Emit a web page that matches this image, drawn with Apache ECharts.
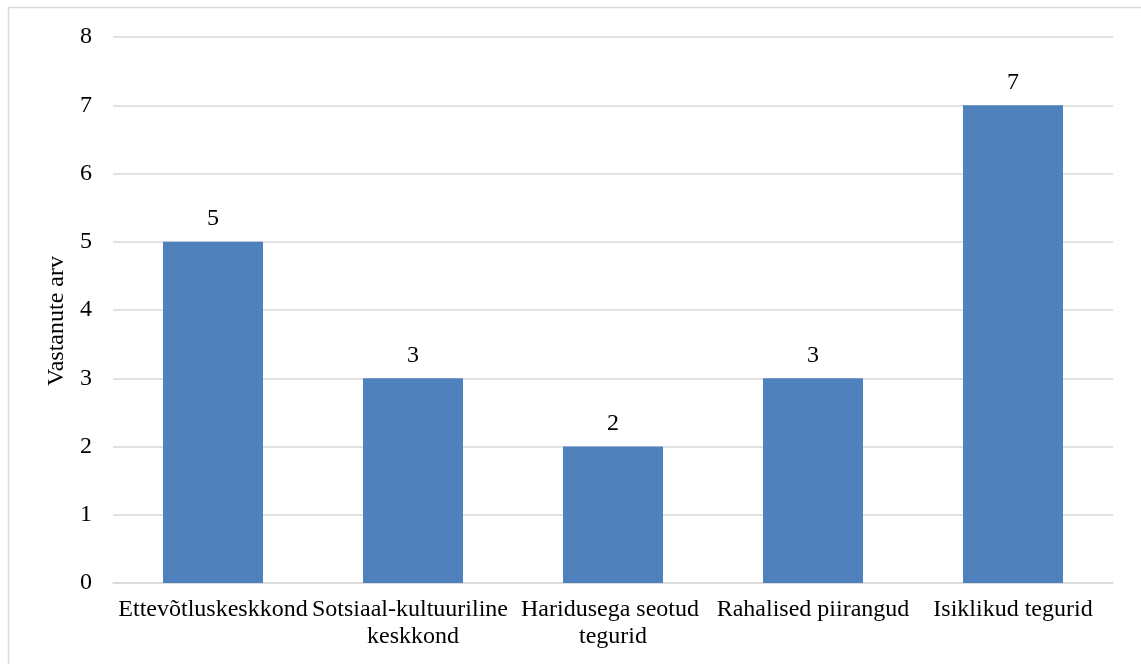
<!DOCTYPE html>
<html><head><meta charset="utf-8">
<script src="https://cdn.jsdelivr.net/npm/echarts@6/dist/echarts.min.js"></script>
<style>html,body{margin:0;padding:0;background:#fff}#c{width:1141px;height:664px}</style>
</head><body><div id="c"></div>
<script>
const categories = ["Ettevõtluskeskkond", "Sotsiaal-kultuuriline keskkond", "Haridusega seotud tegurid", "Rahalised piirangud", "Isiklikud tegurid"];
const values = [5, 3, 2, 3, 7];
const yAxisName = "Vastanute arv";

const font = "'Liberation Serif', 'Times New Roman', serif";
const chart = echarts.init(document.getElementById('c'), null, {renderer: 'canvas'});
chart.setOption({
  animation: false,
  backgroundColor: '#fff',
  graphic: [{type: 'rect', shape: {x: 8.5, y: 7.5, width: 1150, height: 680}, style: {fill: 'none', stroke: '#d9d9d9', lineWidth: 1.5}, silent: true}],
  grid: {left: 113, right: 28, top: 37, bottom: 81},
  xAxis: {
    type: 'category', data: categories,
    axisLine: {lineStyle: {color: '#d9d9d9', width: 1.5}},
    axisTick: {show: false},
    axisLabel: {color: '#000', fontFamily: font, fontSize: 24, margin: 13, width: 210, overflow: 'break', lineHeight: 27, interval: 0}
  },
  yAxis: {
    type: 'value', min: 0, max: 8, interval: 1,
    name: yAxisName, nameLocation: 'middle', nameGap: 40,
    nameTextStyle: {color: '#000', fontFamily: font, fontSize: 24, padding: [0, 22, 0, 0]},
    axisLine: {show: false}, axisTick: {show: false},
    axisLabel: {color: '#000', fontFamily: font, fontSize: 24, margin: 21},
    splitLine: {lineStyle: {color: '#d9d9d9', width: 1.5}}
  },
  series: [{
    type: 'bar', data: values, barWidth: '50%',
    itemStyle: {color: '#4f81bd'},
    label: {show: true, position: 'top', distance: 11, color: '#000', fontFamily: font, fontSize: 24}
  }]
});
</script></body></html>
